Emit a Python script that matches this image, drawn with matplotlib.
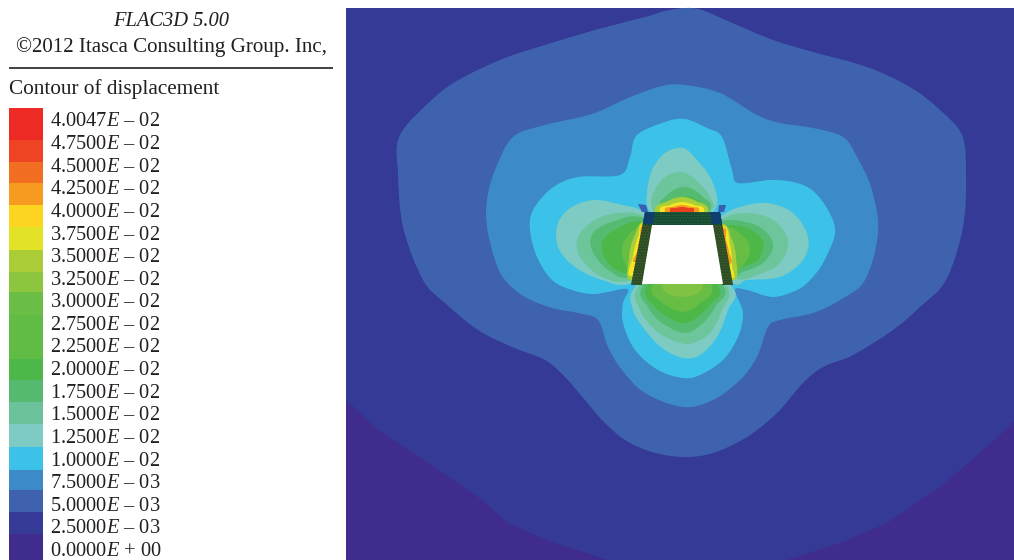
import matplotlib
matplotlib.use('Agg')
import matplotlib.pyplot as plt
from matplotlib.path import Path
from matplotlib.patches import PathPatch, Polygon

plt.rcParams['font.family'] = ['Liberation Serif', 'DejaVu Serif']
plt.rcParams['mathtext.fontset'] = 'custom'
plt.rcParams['mathtext.rm'] = 'Liberation Serif'
plt.rcParams['mathtext.it'] = 'Liberation Serif:italic'

# Legenda
labels = ['4.0047$E$ – 02', '4.7500$E$ – 02', '4.5000$E$ – 02', '4.2500$E$ – 02', '4.0000$E$ – 02',
          '3.7500$E$ – 02', '3.5000$E$ – 02', '3.2500$E$ – 02', '3.0000$E$ – 02', '2.7500$E$ – 02',
          '2.2500$E$ – 02', '2.0000$E$ – 02', '1.7500$E$ – 02', '1.5000$E$ – 02', '1.2500$E$ – 02',
          '1.0000$E$ – 02', '7.5000$E$ – 03', '5.0000$E$ – 03', '2.5000$E$ – 03', '0.0000$E$ + 00']
swatches = ['#ee2a24', '#ef4423', '#f26f21', '#f79a20', '#fdd420', '#e2e227', '#a9cc37', '#8cc63e',
            '#6abd45', '#61bc46', '#61bc46', '#4db84a', '#55b96f', '#6cc29a', '#7dcbc3', '#3cc2e8',
            '#3d8ac8', '#3f62ae', '#343a96', '#3f2c8c']
swatch_edges = [108, 140, 162, 183, 205, 227, 250, 272, 292, 315, 337, 359, 380, 402, 424, 447, 470, 490, 512, 534, 560]

# Contornos (x, y em pixels)
purple_left = [(346, 400), (378, 430), (428, 463), (478, 497), (508, 523), (552, 542), (608, 560), (346, 560)]
purple_right = [(1014, 422), (980, 453), (940, 487), (887, 523), (840, 543), (787, 560), (1014, 560)]

level_5e3 = [(685, 8), (665, 11), (645, 17), (595, 30), (545, 45), (505, 58), (462, 78), (435, 97), (400, 135),
             (398, 173), (403, 227), (423, 280), (445, 303), (478, 330), (512, 347), (545, 360), (565, 377),
             (585, 400), (602, 420), (625, 440), (652, 452), (683, 457), (713, 453), (747, 437), (777, 413),
             (803, 383), (823, 367), (853, 355), (893, 330), (920, 307), (946, 280), (963, 227), (966, 173),
             (962, 135), (940, 110), (910, 87), (867, 67), (813, 52), (773, 40), (730, 22), (702, 10)]
level_75e3 = [(685, 85), (662, 86), (628, 98), (592, 114), (545, 125), (513, 137), (495, 170), (487, 200),
              (487, 227), (495, 260), (505, 280), (525, 297), (552, 308), (578, 313), (598, 320), (608, 347),
              (622, 370), (645, 393), (683, 407), (713, 400), (740, 380), (757, 357), (768, 327), (780, 320),
              (813, 313), (840, 300), (865, 280), (878, 233), (872, 190), (857, 157), (843, 137), (813, 128),
              (780, 123), (757, 115), (720, 93)]
level_1e2 = [(685, 119), (665, 122), (637, 135), (630, 157), (620, 175), (578, 177), (552, 188), (533, 210),
             (530, 230), (537, 257), (552, 280), (572, 290), (595, 294), (627, 289), (623, 303), (623, 323),
             (635, 350), (658, 370), (683, 378), (700, 375), (723, 360), (738, 337), (743, 313), (735, 290),
             (747, 290), (773, 297), (797, 290), (810, 280), (823, 263), (835, 233), (828, 210), (812, 190),
             (793, 182), (770, 180), (738, 183), (732, 170), (722, 137), (707, 128)]

# Lobulos: cima, esquerda, direita, baixo
level_125e2 = [
    [(650, 212), (647, 193), (652, 170), (665, 153), (683, 148), (697, 160), (710, 177), (717, 197), (713, 212)],
    [(645, 213), (622, 205), (595, 200), (572, 207), (558, 223), (558, 247), (575, 267), (602, 280), (632, 283)],
    [(720, 217), (740, 207), (767, 203), (793, 213), (808, 237), (803, 260), (780, 277), (747, 280), (732, 283)],
    [(635, 287), (633, 310), (645, 330), (662, 348), (683, 358), (700, 355), (717, 337), (728, 310), (733, 288)],
]
level_15e2 = [
    [(653, 210), (655, 190), (668, 175), (685, 173), (703, 187), (713, 203), (712, 210)],
    [(645, 217), (618, 213), (595, 220), (578, 237), (580, 257), (602, 277), (632, 280)],
    [(720, 220), (747, 213), (773, 220), (788, 240), (780, 263), (757, 275), (733, 278)],
    [(638, 287), (640, 310), (655, 330), (672, 340), (685, 344), (693, 343), (710, 333), (722, 310), (727, 287)],
]
level_175e2 = [
    [(660, 210), (665, 197), (678, 188), (690, 188), (703, 197), (710, 210)],
    [(643, 218), (612, 222), (593, 233), (592, 250), (608, 270), (632, 277)],
    [(720, 222), (750, 223), (767, 233), (773, 247), (763, 263), (743, 272), (730, 275)],
    [(642, 287), (648, 307), (662, 323), (685, 333), (703, 323), (715, 307), (724, 287)],
]
level_2e2 = [
    [(662, 211), (673, 200), (685, 197), (693, 198), (704, 211)],
    [(643, 222), (615, 230), (602, 243), (608, 263), (632, 273)],
    [(722, 227), (747, 228), (763, 242), (758, 260), (740, 268), (730, 272)],
    [(646, 287), (656, 308), (678, 322), (693, 320), (710, 305), (719, 287)],
]
level_25e2 = [
    [(643, 228), (625, 240), (622, 255), (628, 268), (634, 272)],
    [(723, 228), (743, 236), (750, 250), (743, 265), (730, 270)],
    [(652, 287), (663, 303), (682, 312), (699, 304), (712, 287)],
]
level_3e2 = [[(662, 286), (682, 297), (703, 286)]]
level_light = [
    [(655, 212), (668, 201), (682, 197), (696, 201), (708, 212)],
    [(646, 222), (634, 237), (629, 258), (632, 280)],
    [(721, 224), (732, 240), (736, 258), (732, 280)],
]
level_yellow = [
    [(660, 212), (670, 205), (682, 202), (694, 205), (704, 212)],
    [(645, 224), (638, 237), (633, 256), (632, 276)],
    [(722, 226), (730, 245), (732, 265), (730, 278)],
]
level_orange = [
    [(665, 212), (673, 207), (682, 205), (691, 207), (699, 212)],
    [(645, 226), (640, 238), (637, 252), (636, 262)],
    [(722, 228), (726, 240), (729, 252), (728, 264)],
]
level_red = [[(670, 212), (676, 208), (682, 207), (688, 208), (694, 212)]]

# Revestimento e abertura
top_bar = [(645, 212), (720, 212), (722, 225), (643, 225)]
left_leg = [(645, 212), (655, 212), (642, 285), (631, 285)]
right_leg = [(710, 212), (720, 212), (733, 285), (722, 285)]
corner_spots = [[(638, 204), (646, 205), (648, 212), (642, 212)], [(718, 212), (719, 205), (726, 205), (724, 212)]]
corner_blocks = [[(645, 212), (655, 212), (653, 224), (643, 224)], [(710, 212), (720, 212), (722, 224), (712, 224)]]
opening = [(652, 225), (713, 225), (723, 284), (642, 284)]
plot_box = [(346, 8), (1014, 8), (1014, 560), (346, 560)]
lobe_anchor = (682, 250)

contours = [(level_5e3, '#3f62ae'), (level_75e3, '#3d8ac8'), (level_1e2, '#3cc2e8')]
lobes = [(level_125e2, '#7dcbc3'), (level_15e2, '#6cc59b'), (level_175e2, '#55bb70'), (level_2e2, '#4db848'),
         (level_25e2, '#68bd45'), (level_3e2, '#80c241'), (level_light, '#a9cf38'), (level_yellow, '#f5e526'),
         (level_orange, '#f59a20'), (level_red, '#e8401f')]


def smooth_patch(pts, color):
    # Curva de Bezier passando pelos pontos lidos
    n = len(pts)
    verts = [pts[0]]
    codes = [Path.MOVETO]
    for i in range(n):
        p0, p1, p2, p3 = pts[i - 1], pts[i], pts[(i + 1) % n], pts[(i + 2) % n]
        c1 = (p1[0] + (p2[0] - p0[0]) / 6, p1[1] + (p2[1] - p0[1]) / 6)
        c2 = (p2[0] - (p3[0] - p1[0]) / 6, p2[1] - (p3[1] - p1[1]) / 6)
        verts += [c1, c2, p2]
        codes += [Path.CURVE4] * 3
    return PathPatch(Path(verts, codes), facecolor=color, edgecolor='none', lw=0)


fig = plt.figure(figsize=(10.14, 5.6), dpi=100)
ax = fig.add_axes([0, 0, 1, 1])
ax.set_xlim(0, 1014)
ax.set_ylim(560, 0)
ax.axis('off')

# Cabecalho
ax.text(171, 22, 'FLAC3D 5.00', style='italic', fontsize=14.8, color='#231f20', ha='center', va='center')
ax.text(171, 47, '©2012 Itasca Consulting Group. Inc,', fontsize=15.1, color='#231f20', ha='center', va='center')
ax.plot([9, 333], [68, 68], color='#231f20', lw=1.2, solid_capstyle='butt')
ax.text(9, 89, 'Contour of displacement', fontsize=15.3, color='#231f20', ha='left', va='center')

# Barra de cores
for i in range(len(labels)):
    ax.bar(26, swatch_edges[i + 1] - swatch_edges[i], width=34, bottom=swatch_edges[i], color=swatches[i], lw=0)
    ax.text(49.5, 122 + 22.6 * i, labels[i], fontsize=14.7, color='#231f20', ha='left', va='center')

# Campo de deslocamento
ax.add_patch(Polygon(plot_box, closed=True, facecolor='#343a96', edgecolor='none'))
for region in [purple_left, purple_right]:
    ax.add_patch(Polygon(region, closed=True, facecolor='#3f2c8c', edgecolor='none'))
for pts, color in contours:
    ax.add_patch(smooth_patch(pts, color))
for group, color in lobes:
    for pts in group:
        ax.add_patch(smooth_patch(pts + [lobe_anchor], color))

for leg in [left_leg, right_leg]:
    ax.add_patch(Polygon(leg, closed=True, facecolor='#3d5a24', edgecolor='#1c3f2c', lw=0, hatch='......'))
ax.add_patch(Polygon(top_bar, closed=True, facecolor='#1f5c38', edgecolor='#123a35', lw=0, hatch='......'))
for block in corner_blocks:
    ax.add_patch(Polygon(block, closed=True, facecolor='#0f3f6e', edgecolor='none'))
for spot in corner_spots:
    ax.add_patch(Polygon(spot, closed=True, facecolor='#3a5fb0', edgecolor='none'))
ax.add_patch(Polygon(opening, closed=True, facecolor='white', edgecolor='none'))

fig.savefig('out.png', dpi=100)
